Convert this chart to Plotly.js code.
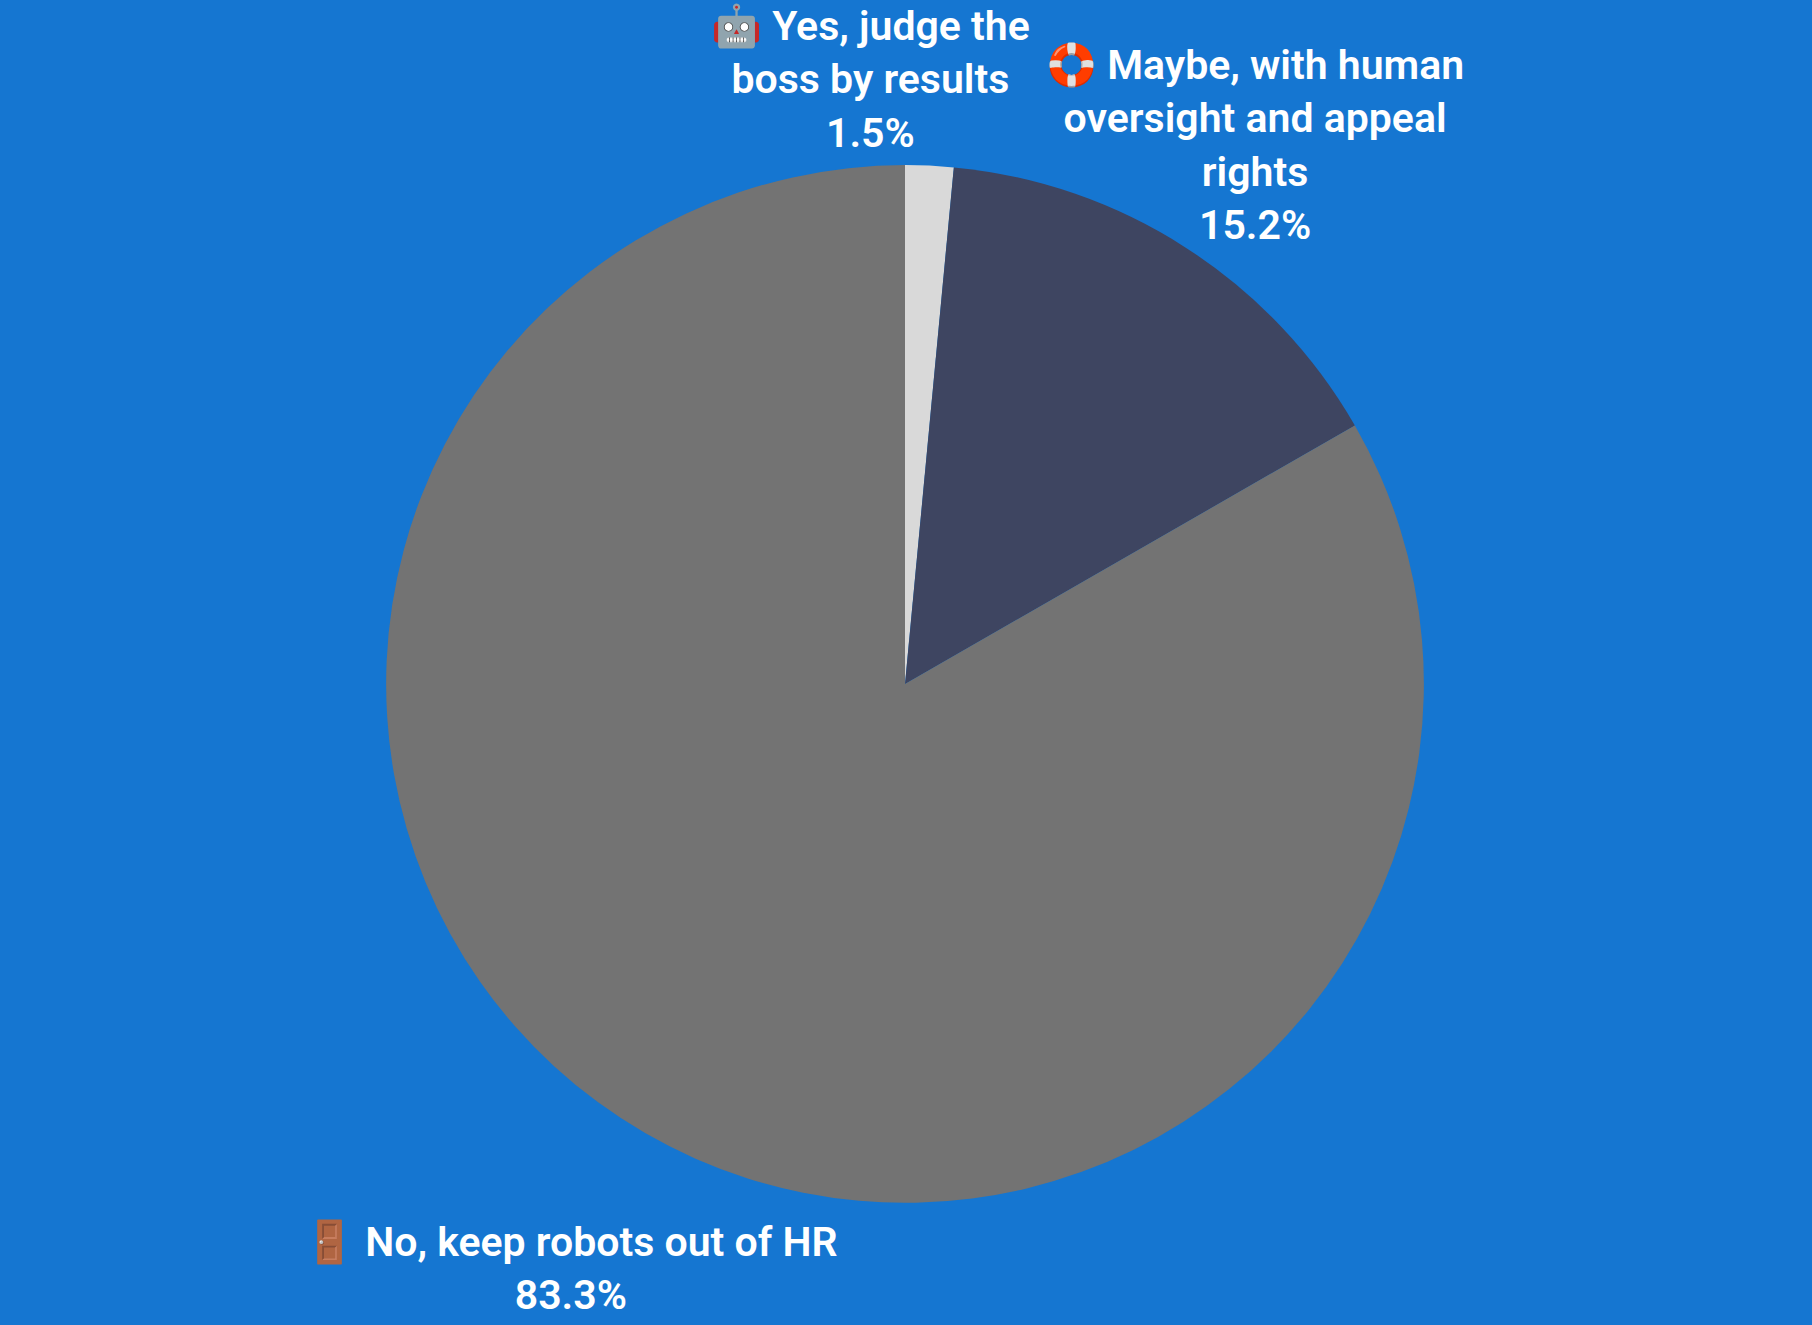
<!DOCTYPE html>
<html><head><meta charset="utf-8">
<script src="https://cdn.plot.ly/plotly-3.0.1.min.js"></script>
<style>html,body{margin:0;padding:0;background:#1576d1}</style>
</head><body><div id="chart" style="width:1812px;height:1325px"></div>
<script>
const W = 1812, H = 1325;
const labels = ["🤖 Yes, judge the<br>boss by results","🛟 Maybe, with human<br>oversight and appeal<br>rights","🚪 No, keep robots out of HR"];
const values = [1.5,15.2,83.3];
const colors = ["#d9d9d9","#3e4561","#737373"];
const labelX = [870,1255,571];
const labelY = [80,145,1268];
const font = {family:"Roboto, Noto Sans, sans-serif",size:41,color:"#ffffff",weight:600};
const annotations = labels.map((t,i)=>({text:t+"<br>"+values[i].toFixed(1)+"%",x:labelX[i]/W,y:1-labelY[i]/H,xref:"paper",yref:"paper",
  xanchor:"center",yanchor:"middle",align:"center",showarrow:false,font:font}));
Plotly.newPlot("chart",[{type:"pie",labels:labels,values:values,sort:false,direction:"clockwise",rotation:0,
 marker:{colors:colors,line:{width:0}},textinfo:"none",showlegend:false,
 domain:{x:[0.2131,0.7858],y:[0.0921,0.8755]}}],
 {width:W,height:H,paper_bgcolor:"#1576d1",margin:{l:0,r:0,t:0,b:0},showlegend:false,annotations:annotations},{displayModeBar:false});
</script></body></html>
